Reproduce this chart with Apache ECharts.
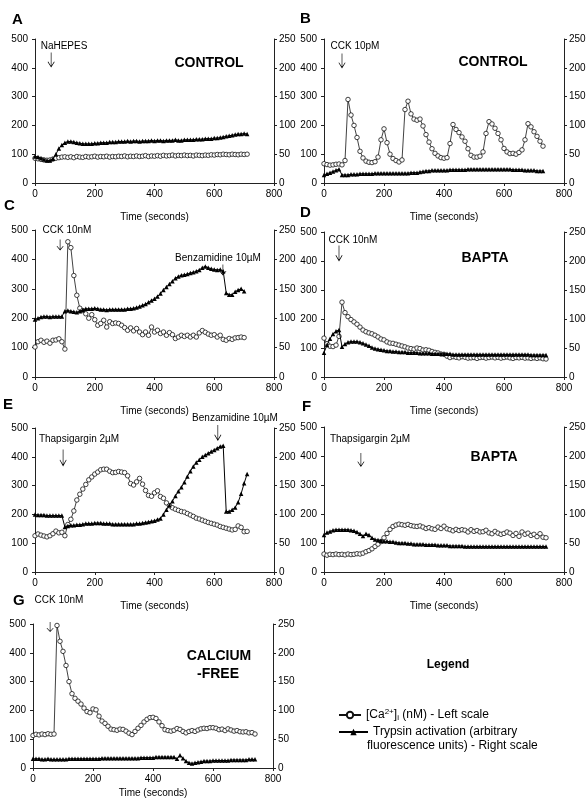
<!DOCTYPE html>
<html><head><meta charset="utf-8">
<script src="https://cdn.jsdelivr.net/npm/echarts@6/dist/echarts.min.js"></script>
<style>html,body{margin:0;padding:0;background:#fff}#c{width:586px;height:810px}</style>
</head><body><div id="c"></div><script>
// Sampling times (seconds)
const TIME = [0,10,20,30,40,50,60,70,80,90,100,110,120,130,140,150,160,170,180,190,
200,210,220,230,240,250,260,270,280,290,300,310,320,330,340,350,360,370,380,390,
400,410,420,430,440,450,460,470,480,490,500,510,520,530,540,550,560,570,580,590,
600,610,620,630,640,650,660,670,680,690,700,710,720,730,740,750];
const X_TICKS = [0,200,400,600,800];
const LEFT_TICKS = [0,100,200,300,400,500];
const RIGHT_TICKS = [0,50,100,150,200,250];

// Panel A
const caA = [86,84,82,80,79,80,83,86,88,90, 91,89,91,88,92,90,89,92,90,91, 93,90,92,91,93,90,92,91,93,92,
 94,91,93,92,94,92,93,95,92,94, 93,95,93,96,94,95,97,94,96,95, 97,95,96,94,97,96,95,97,96,98,
 97,99,98,100,99,98,100,99,98,100, 99,100];
const trA = [46,45,43,41,39,39,42,50,60,66, 70,72,72,71,70,69,68,68,68,68, 69,69,70,70,70,71,71,71,72,72,
 72,73,72,73,73,72,73,73,73,74, 73,74,74,73,74,74,74,75,74,74, 75,75,75,75,76,76,76,77,77,77,
 78,78,79,80,81,82,83,84,85,85, 86,85];
// Panel B
const caB = [67,64,62,63,65,66,63,78,290,236, 200,158,110,87,76,72,71,74,90,150, 188,140,100,85,78,73,80,255,284,240,
 222,218,222,198,168,142,119,103,94,88, 86,88,137,203,186,175,160,145,119,96, 90,90,93,108,172,213,205,190,172,150,
 120,108,102,103,100,106,115,150,206,195, 178,162,145,128];
const trB = [14,16,18,20,22,24,14,14,14,15, 15,15,16,16,16,16,16,17,17,17, 17,17,17,17,17,17,17,17,17,18,
 18,18,19,20,21,21,22,22,22,22, 22,22,23,23,23,23,23,23,24,24, 24,24,24,24,24,24,24,24,24,24,
 24,24,24,23,23,23,23,22,22,22, 22,21,21,21];
// Panel C
const caC = [102,120,125,118,122,115,125,126,130,120, 95,460,440,345,278,234,226,215,200,212,
 195,176,182,193,170,188,182,184,182,176, 168,159,167,157,165,153,144,153,142,170,
 153,159,148,153,142,151,144,131,136,142, 138,142,136,142,136,150,158,152,146,142,
 144,136,142,128,125,131,128,133,134,136, 134];
const trC = [98,100,102,103,103,102,103,103,103,103, 112,113,112,111,110,112,114,116,116,116,
 117,116,115,115,114,115,115,115,115,115, 115,116,116,117,118,120,122,124,127,130,
 133,137,142,148,153,158,163,168,171,173, 174,175,177,178,180,182,186,188,186,184,
 183,182,183,180,143,140,140,145,148,150, 146];
// Panel D
const caD = [134,115,106,105,110,140,258,222,208,198, 190,182,172,162,156,152,149,144,138,131,
 128,121,117,116,113,110,107,104,100,98, 96,100,98,93,94,92,88,85,83,79,
 78,72,67,70,68,66,70,68,65,66, 67,64,67,68,65,67,69,66,68,65,
 67,69,66,64,67,66,68,65,66,64, 66,64,66,63,62];
const trD = [42,55,66,74,79,81,52,57,60,61, 61,61,60,58,56,54,51,49,48,47,
 46,45,45,44,44,43,43,43,42,42, 42,42,41,41,41,41,40,40,40,40,
 40,40,40,39,39,39,39,39,39,39, 39,39,39,39,39,39,39,39,39,39,
 39,39,39,39,39,39,39,39,39,38, 38,38,38,38,38];
// Panel E
const caE = [126,132,128,125,122,126,133,142,136,138, 126,165,183,212,250,270,288,304,320,330,
 340,347,355,357,357,350,345,346,349,347, 345,334,307,302,313,325,305,283,266,263,
 275,282,262,256,240,230,223,218,214,210, 208,203,198,193,187,184,180,176,172,169,
 166,163,158,155,152,149,146,148,160,155, 140,141];
const trE = [100,99,99,99,98,98,98,98,98,98, 78,80,81,81,82,82,83,84,84,84,
 85,85,85,84,84,84,83,83,83,83, 83,83,83,83,84,84,85,86,87,88,
 89,91,93,100,108,116,123,132,140,147, 156,166,175,183,190,195,200,203,206,209,
 212,215,218,219,105,105,108,112,121,136, 154,170];
// Panel F
const caF = [62,58,61,60,62,60,61,59,62,60, 61,63,62,65,70,74,80,88,96,105,
 118,133,147,157,162,165,163,161,164,160, 158,157,159,155,150,153,149,147,155,150,
 158,149,146,142,147,143,146,144,138,146, 140,143,138,139,144,135,132,140,134,130,
 133,138,134,126,133,123,138,130,134,126, 130,122,132,120,118];
const trF = [64,68,70,72,73,73,73,73,73,72, 71,69,66,62,66,64,59,56,55,54,
 53,53,52,52,51,50,50,50,49,49, 48,48,48,48,47,47,47,47,46,46,
 46,46,45,45,45,45,45,44,44,44, 44,44,44,44,44,44,44,44,44,44,
 44,44,44,44,44,44,44,44,44,44, 44,44,44,44,44];
// Panel G
const caG = [113,117,115,118,116,119,117,118,495,440, 405,356,300,258,242,232,222,208,196,192,
 205,202,180,163,155,145,135,133,131,135, 134,128,121,116,127,138,148,160,169,175,
 176,172,160,147,133,130,128,131,137,134, 127,122,127,130,127,132,136,138,137,140,
 140,138,133,135,130,136,132,128,130,126, 125,126,122,123,118];
const trG = [16,16,16,15,15,16,15,15,15,15, 15,15,16,16,16,16,16,16,16,16,
 16,16,16,17,17,17,17,17,17,17, 17,17,17,17,17,17,18,18,18,18,
 18,19,19,19,19,19,19,19,16,22, 17,12,9,8,9,10,11,12,12,12,
 13,13,13,13,13,13,14,14,14,14, 14,14,15,15,15];

// Stimulus arrows: [time, left-scale value] anchors and arrow height
const arrowsA = [{t:54, v:427, h:15}];
const arrowsB = [{t:60, v:424, h:15}];
const arrowsC = [{t:84, v:449, h:11}, {t:629, v:364, h:11}];
const arrowsD = [{t:50, v:426, h:16}];
const arrowsE = [{t:94, v:396, h:17}, {t:612, v:483, h:16}];
const arrowsF = [{t:123, v:386, h:14}];
const arrowsG = [{t:57, v:490, h:10}];

const FONT = '"Liberation Sans", Arial, Helvetica, sans-serif';
const layout = {
  A:{left:35, top:39, width:239, height:144, gap:29},
  B:{left:324, top:39, width:240, height:144, gap:29},
  C:{left:35, top:230, width:239, height:147, gap:29},
  D:{left:324, top:232, width:240, height:145, gap:29},
  E:{left:35, top:428, width:239, height:144, gap:29},
  F:{left:324, top:427, width:240, height:145, gap:29},
  G:{left:33, top:624, width:240, height:144, gap:20}
};
const panels = [
  {id:'A', ca:caA, tr:trA, arrows:arrowsA},
  {id:'B', ca:caB, tr:trB, arrows:arrowsB},
  {id:'C', ca:caC, tr:trC, arrows:arrowsC},
  {id:'D', ca:caD, tr:trD, arrows:arrowsD},
  {id:'E', ca:caE, tr:trE, arrows:arrowsE},
  {id:'F', ca:caF, tr:trF, arrows:arrowsF},
  {id:'G', ca:caG, tr:trG, arrows:arrowsG}
];
const ARROW = 'path://M4.6,0 L5.4,0 L5.4,17.5 L8.6,12 L9.3,12.5 L5,20 L0.7,12.5 L1.4,12 L4.6,17.5 Z';

const grid = [], xAxis = [], yAxis = [], series = [];
const axisLine = {show:true, lineStyle:{color:'#222', width:1}};
const axisTick = {show:true, length:3, lineStyle:{color:'#222', width:1}};
const lbl = {fontFamily:FONT, fontSize:10, color:'#000'};

panels.forEach((p, i) => {
  const L = layout[p.id];
  grid.push({left:L.left, top:L.top, width:L.width, height:L.height, outerBoundsMode:'none', containLabel:false});
  xAxis.push({gridIndex:i, type:'value', min:X_TICKS[0], max:X_TICKS[X_TICKS.length-1], interval:X_TICKS[1]-X_TICKS[0],
    name:'Time (seconds)', nameLocation:'middle', nameGap:L.gap, nameTextStyle:lbl,
    axisLine, axisTick, axisLabel:Object.assign({margin:6}, lbl), splitLine:{show:false}});
  yAxis.push({gridIndex:i, type:'value', position:'left', min:LEFT_TICKS[0], max:LEFT_TICKS[LEFT_TICKS.length-1],
    interval:LEFT_TICKS[1]-LEFT_TICKS[0], axisLine, axisTick, axisLabel:Object.assign({margin:7}, lbl), splitLine:{show:false}});
  yAxis.push({gridIndex:i, type:'value', position:'right', min:RIGHT_TICKS[0], max:RIGHT_TICKS[RIGHT_TICKS.length-1],
    interval:RIGHT_TICKS[1]-RIGHT_TICKS[0], axisLine, axisTick, axisLabel:Object.assign({margin:5}, lbl), splitLine:{show:false}});
  const t = TIME.slice(0, p.ca.length);
  series.push({
    name:'ca', type:'line', xAxisIndex:i, yAxisIndex:2*i, data:t.map((x,k)=>[x, p.ca[k]]),
    symbol:'circle', symbolSize:4.5, showSymbol:true, showAllSymbol:true,
    itemStyle:{color:'#fff', borderColor:'#111', borderWidth:0.8},
    lineStyle:{color:'#111', width:0.8}, z:2,
    markPoint:{silent:true, animation:false, data:p.arrows.map(n =>
      ({coord:[n.t, n.v], symbol:ARROW, symbolSize:[7, n.h], itemStyle:{color:'#000', borderWidth:0}, label:{show:false}}))}
  });
  series.push({
    name:'tr', type:'line', xAxisIndex:i, yAxisIndex:2*i+1, data:t.map((x,k)=>[x, p.tr[k]]),
    symbol:'triangle', symbolSize:4.5, showSymbol:true, showAllSymbol:true,
    itemStyle:{color:'#000'}, lineStyle:{color:'#000', width:1}, z:3
  });
});

function txt(x, y, s, size, bold, align) {
  return {type:'text', x:x, y:y, style:{text:s, fontFamily:FONT, fontSize:size, fontWeight:bold?'bold':'normal',
    fill:'#000', align:align||'left', verticalAlign:'middle'}};
}
const graphic = [
  txt(12,20,'A',15,true), txt(300,19,'B',15,true), txt(4,206,'C',15,true), txt(300,213,'D',15,true),
  txt(3,405,'E',15,true), txt(302,407,'F',15,true), txt(13,601,'G',15,true),
  txt(209,63,'CONTROL',14,true,'center'), txt(493,62,'CONTROL',14,true,'center'),
  txt(485,258,'BAPTA',14,true,'center'), txt(494,457,'BAPTA',14,true,'center'),
  txt(219,656,'CALCIUM',14,true,'center'), txt(218,674,'-FREE',14,true,'center'),
  // stimulus labels
  txt(64,46,'NaHEPES',10,false,'center'), txt(355,46,'CCK 10pM',10,false,'center'),
  txt(67,230,'CCK 10nM',10,false,'center'), txt(218,258,'Benzamidine 10\u00b5M',10,false,'center'),
  txt(353,240,'CCK 10nM',10,false,'center'),
  txt(79,439,'Thapsigargin 2\u00b5M',10,false,'center'), txt(235,418,'Benzamidine 10\u00b5M',10,false,'center'),
  txt(370,439,'Thapsigargin 2\u00b5M',10,false,'center'),
  txt(59,600,'CCK 10nM',10,false,'center'),
  txt(448,665,'Legend',12,true,'center'),
  txt(367,746,'fluorescence units) - Right scale',12,false,'left')
];

const chart = echarts.init(document.getElementById('c'), null, {renderer:'canvas'});
chart.setOption({
  animation:false,
  backgroundColor:'#fff',
  grid, xAxis, yAxis, series, graphic,
  legend:[
    {data:['ca'], left:333, top:703, orient:'vertical', itemWidth:22, itemHeight:8, itemGap:5, selectedMode:false,
     formatter: () => '{m|[Ca}{sup|2+}{m|]}{sub|i}{m| (nM) - Left scale}',
     textStyle:{fontFamily:FONT, fontSize:12, color:'#000',
       rich:{m:{fontFamily:FONT, fontSize:12, lineHeight:14}, sup:{fontFamily:FONT, fontSize:8, lineHeight:8, verticalAlign:'top'},
             sub:{fontFamily:FONT, fontSize:8, lineHeight:8, verticalAlign:'bottom'}}}},
    {data:['tr'], left:333, top:721, orient:'vertical', itemWidth:29, itemHeight:8, itemGap:5, selectedMode:false,
     formatter: () => 'Trypsin activation (arbitrary',
     textStyle:{fontFamily:FONT, fontSize:12, color:'#000'}}
  ]
});
</script></body></html>
